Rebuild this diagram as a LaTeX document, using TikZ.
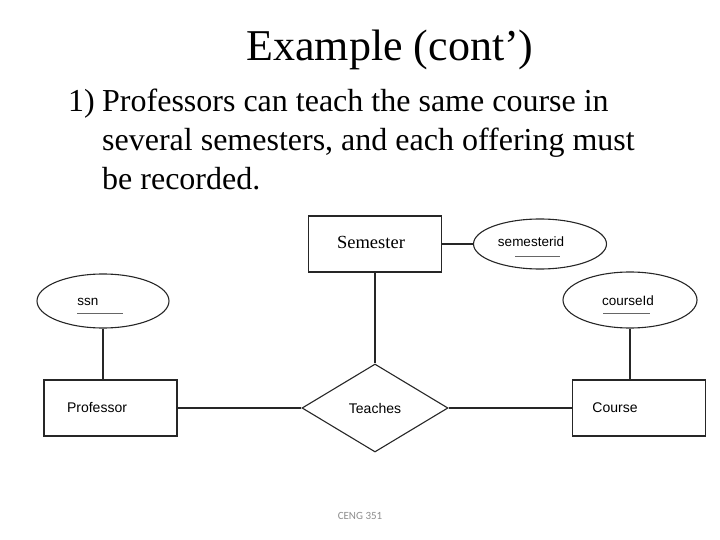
\documentclass[tikz,border=0pt]{standalone}
\usepackage{fontspec}
\setmainfont{Liberation Serif}
\setsansfont{Liberation Sans}
\newfontfamily\footfont{Carlito}
\usetikzlibrary{shapes.geometric}
\begin{document}
\begin{tikzpicture}[x=1pt,y=-1pt,
  ln/.style={draw=black!85, line width=1.1pt},
  entity/.style={ln, rectangle, inner sep=0pt, minimum width=133pt, minimum height=56pt},
  attr/.style={ln, ellipse, inner sep=0pt},
  lbl/.style={font=\sffamily\fontsize{14}{16}\selectfont, inner sep=0pt},
  body/.style={anchor=base west, inner sep=0pt, font=\fontsize{32}{38}\selectfont},
  key/.style={draw=black!60, line width=0.8pt}]
\useasboundingbox (0,0) rectangle (720,540);
% title and text
\node[anchor=base, inner sep=0pt, font=\fontsize{44}{52}\selectfont] (title) at (390,61) {Example (cont’)};
\node[body] (num) at (68,112) {1)};
\node[body] (l1) at (102,112) {Professors can teach the same course in};
\node[body] (l2) at (102,151) {several semesters, and each offering must};
\node[body] (l3) at (102,190) {be recorded.};
% entities
\node[entity] (sem) at (375,244) {};
\node[font=\fontsize{18.5}{20}\selectfont, inner sep=0pt] (semt) at (371,242) {Semester};
\node[entity] (prof) at (110.5,408) {};
\node[lbl] (proft) at (97,408) {Professor};
\node[entity] (course) at (639,408) {};
\node[lbl] (courset) at (615,408) {Course};
% relationship
\node[ln, diamond, inner sep=0pt, minimum width=146pt, minimum height=88pt, font=\sffamily\fontsize{14}{16}\selectfont] (teach) at (375,408) {Teaches};
% attributes
\node[attr, minimum width=133pt, minimum height=50pt] (semid) at (540,244) {};
\node[lbl, font=\sffamily\fontsize{13.5}{15}\selectfont] (semidt) at (531,242) {semesterid};
\node[attr, minimum width=132pt, minimum height=54pt] (ssn) at (103,301) {};
\node[lbl, font=\sffamily\fontsize{13.5}{15}\selectfont] (ssnt) at (88,302) {ssn};
\node[attr, minimum width=134pt, minimum height=56pt] (cid) at (630,300) {};
\node[lbl, font=\sffamily\fontsize{13.5}{15}\selectfont] (cidt) at (628,301) {courseId};
% key underlines
\coordinate (u1a) at (515,256); \coordinate (u1b) at (560,256);
\coordinate (u2a) at (77,313); \coordinate (u2b) at (123,313);
\coordinate (u3a) at (603,313); \coordinate (u3b) at (650,313);
\draw[key] (u1a) -- (u1b);
\draw[key] (u2a) -- (u2b);
\draw[key] (u3a) -- (u3b);
% connectors
\draw[ln] (sem.east) -- (semid.west);
\draw[ln] (sem.south) -- (teach.north);
\draw[ln] (prof.east) -- (teach.west);
\draw[ln] (teach.east) -- (course.west);
\draw[ln] (ssn.south) -- (ssn.south |- prof.north);
\draw[ln] (cid.south) -- (cid.south |- course.north);
% footer
\node[font=\footfont\fontsize{11}{13}\selectfont, text=black!45, inner sep=0pt] (foot) at (360,516) {CENG 351};
\end{tikzpicture}
\end{document}
